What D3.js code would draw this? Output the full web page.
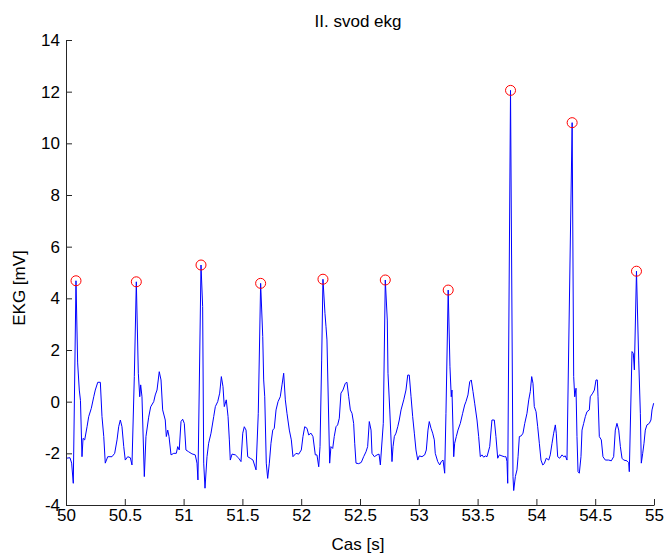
<!DOCTYPE html>
<html>
<head>
<meta charset="utf-8">
<script src="https://cdn.jsdelivr.net/npm/d3@7"></script>
<style>
  html, body { margin: 0; padding: 0; background: #fff; }
  svg { display: block; }
  text { font-family: "Liberation Sans", Arial, Helvetica, sans-serif; }
</style>
</head>
<body>
<svg id="chart" width="665" height="553"></svg>
<script>
// ---- data ----
const titleText = "II. svod ekg";
const xLabel = "Cas [s]";
const yLabel = "EKG [mV]";
const xTicks = [50, 50.5, 51, 51.5, 52, 52.5, 53, 53.5, 54, 54.5, 55];
const yTicks = [-4, -2, 0, 2, 4, 6, 8, 10, 12, 14];

const time = [
  50.000, 50.034, 50.048, 50.062, 50.085, 50.099, 50.113, 50.123, 50.136, 50.145,
  50.159, 50.179, 50.193, 50.215, 50.236, 50.249, 50.270, 50.292, 50.306, 50.321,
  50.334, 50.355, 50.391, 50.414, 50.434, 50.448, 50.462, 50.476, 50.491, 50.504,
  50.525, 50.547, 50.561, 50.581, 50.598, 50.615, 50.627, 50.635, 50.646, 50.666,
  50.680, 50.703, 50.720, 50.746, 50.759, 50.774, 50.793, 50.808, 50.822, 50.844,
  50.853, 50.865, 50.876, 50.893, 50.916, 50.938, 50.950, 50.963, 50.978, 50.992,
  51.006, 51.020, 51.043, 51.071, 51.099, 51.114, 51.122, 51.148, 51.162, 51.171,
  51.182, 51.199, 51.213, 51.233, 51.256, 51.270, 51.290, 51.307, 51.321, 51.335,
  51.346, 51.363, 51.378, 51.389, 51.397, 51.412, 51.440, 51.469, 51.488, 51.503,
  51.516, 51.531, 51.545, 51.567, 51.590, 51.616, 51.635, 51.655, 51.673, 51.681,
  51.690, 51.703, 51.715, 51.729, 51.743, 51.758, 51.771, 51.786, 51.803, 51.822,
  51.837, 51.851, 51.865, 51.879, 51.899, 51.916, 51.930, 51.956, 51.979, 52.001,
  52.015, 52.030, 52.049, 52.064, 52.083, 52.100, 52.120, 52.134, 52.149, 52.160,
  52.174, 52.185, 52.202, 52.211, 52.219, 52.242, 52.253, 52.268, 52.281, 52.296,
  52.310, 52.324, 52.338, 52.355, 52.375, 52.389, 52.404, 52.418, 52.432, 52.446,
  52.455, 52.466, 52.489, 52.511, 52.531, 52.551, 52.565, 52.579, 52.594, 52.602,
  52.622, 52.645, 52.662, 52.673, 52.698, 52.715, 52.732, 52.738, 52.753, 52.772,
  52.781, 52.792, 52.806, 52.821, 52.834, 52.849, 52.872, 52.891, 52.906, 52.919,
  52.934, 52.948, 52.962, 52.976, 52.991, 53.004, 53.027, 53.050, 53.064, 53.078,
  53.089, 53.104, 53.118, 53.132, 53.140, 53.161, 53.178, 53.191, 53.206, 53.220,
  53.231, 53.250, 53.265, 53.276, 53.282, 53.297, 53.305, 53.319, 53.333, 53.353,
  53.373, 53.390, 53.401, 53.418, 53.433, 53.446, 53.461, 53.475, 53.495, 53.509,
  53.523, 53.537, 53.552, 53.565, 53.580, 53.603, 53.622, 53.642, 53.656, 53.671,
  53.685, 53.707, 53.727, 53.741, 53.750, 53.756, 53.780, 53.801, 53.807, 53.821,
  53.835, 53.844, 53.855, 53.872, 53.886, 53.901, 53.920, 53.935, 53.948, 53.960,
  53.971, 53.982, 53.997, 54.011, 54.025, 54.039, 54.054, 54.067, 54.084, 54.105,
  54.118, 54.133, 54.147, 54.161, 54.169, 54.181, 54.198, 54.218, 54.232, 54.246,
  54.260, 54.304, 54.317, 54.326, 54.337, 54.345, 54.354, 54.365, 54.379, 54.388,
  54.402, 54.416, 54.430, 54.450, 54.458, 54.479, 54.493, 54.507, 54.518, 54.524,
  54.535, 54.552, 54.566, 54.586, 54.615, 54.637, 54.657, 54.671, 54.685, 54.700,
  54.714, 54.728, 54.742, 54.770, 54.785, 54.790, 54.813, 54.824, 54.833, 54.851,
  54.870, 54.884, 54.892, 54.904, 54.915, 54.926, 54.940, 54.960, 54.974, 54.983,
  54.997
];

const ekg = [
  -2.19, -2.17, -2.38, -3.16, 4.68, 1.50, 0.45, 0.05, -2.13, -1.42,
  -1.48, -0.97, -0.58, -0.26, 0.19, 0.45, 0.75, 0.75, -0.58, -1.35,
  -2.38, -2.13, -2.13, -2.00, -1.48, -0.97, -0.71, -0.97, -1.74, -2.26,
  -2.13, -2.17, -2.45, 0.97, 4.64, 1.10, 0.19, 0.65, 0.19, -2.90,
  -1.35, -0.60, -0.20, 0.00, 0.26, 0.45, 1.16, 0.84, -0.32, -0.71,
  -1.35, -1.10, -1.35, -2.06, -2.00, -2.00, -1.74, -1.87, -0.77, -0.68,
  -0.84, -1.87, -1.94, -2.02, -2.06, -2.38, -3.03, 5.29, 3.68, -2.38,
  -3.35, -2.13, -1.61, -1.22, -0.58, -0.19, 0.00, 0.33, 0.97, 0.58,
  -0.19, 0.07, -0.58, -1.48, -2.26, -2.03, -2.06, -2.19, -2.32, -1.22,
  -0.97, -1.10, -2.13, -2.19, -2.26, -2.64, -0.45, 4.58, 2.52, 0.84,
  0.19, -2.38, -2.97, -2.38, -1.61, -1.10, -1.03, -0.32, 0.00, 0.19,
  0.65, 1.10, 0.07, -0.45, -1.10, -1.48, -2.13, -2.00, -2.03, -1.87,
  -1.35, -0.97, -1.03, -1.29, -1.22, -1.35, -2.06, -2.06, -2.52, -1.74,
  1.61, 4.74, 3.42, 2.90, 2.39, -2.38, -1.74, -1.81, -1.35, -0.97,
  -0.90, -0.64, 0.33, 0.45, 0.71, 0.75, 0.19, -0.32, -0.45, -0.84,
  -1.61, -2.38, -2.40, -2.35, -2.13, -1.94, -1.74, -0.77, -1.10, -2.00,
  -2.13, -2.06, -2.03, -2.45, -0.84, 4.71, 3.16, 1.10, -0.32, -2.32,
  -1.74, -1.35, -1.22, -0.97, -0.71, -0.32, 0.07, 0.45, 1.03, 1.03,
  0.19, -0.58, -1.22, -1.87, -2.26, -2.10, -2.13, -2.06, -1.87, -1.10,
  -0.77, -1.03, -1.22, -1.48, -2.00, -2.32, -2.45, -2.32, -2.26, -2.77,
  -0.45, 4.32, 1.35, 0.19, 0.45, -2.13, -1.61, -1.35, -1.10, -0.84,
  -0.45, -0.13, 0.00, 0.26, 0.77, 0.84, 0.39, -0.06, -0.71, -1.35,
  -2.13, -2.06, -2.15, -2.10, -2.13, -1.74, -0.71, -0.71, -1.35, -2.19,
  -2.06, -2.10, -2.13, -2.13, -2.32, -3.16, 12.05, -2.90, -3.44, -2.90,
  -2.64, -2.13, -1.35, -1.32, -1.22, -0.84, -0.45, 0.07, 0.39, 0.97,
  0.71, -0.19, -0.39, -0.97, -1.61, -2.26, -2.45, -2.40, -2.19, -2.26,
  -2.06, -1.61, -1.22, -0.90, -1.22, -2.13, -2.19, -2.06, -2.13, -2.10,
  -2.26, 10.80, 0.97, 0.19, 0.52, -1.35, -2.71, -2.77, -2.13, -1.10,
  -0.84, -0.58, -0.39, -0.32, 0.19, 0.33, 0.45, 0.84, 0.84, 0.19,
  -1.35, -1.48, -2.13, -2.26, -2.26, -2.29, -2.13, -1.10, -0.84, -1.10,
  -1.74, -2.19, -2.26, -2.29, -2.36, -2.71, 1.94, 1.87, 1.23, 5.05,
  1.61, -0.45, -2.38, -2.00, -1.61, -1.10, -0.90, -0.84, -0.71, -0.32,
  -0.06
];

const peakTimes = [50.085, 50.598, 51.148, 51.655, 52.185, 52.715, 53.250, 53.780, 54.304, 54.851];
const peakValues = [4.68, 4.64, 5.29, 4.58, 4.74, 4.71, 4.32, 12.05, 10.80, 5.05];

// ---- layout ----
const W = 665, H = 553;
const plot = { left: 66, right: 654, top: 40, bottom: 505 };

const svg = d3.select("#chart");
svg.append("rect").attr("width", W).attr("height", H).attr("fill", "#fff");

const x = d3.scaleLinear().domain([50, 55]).range([plot.left, plot.right]);
const y = d3.scaleLinear().domain([-4, 14]).range([plot.bottom, plot.top]);

const series = time.map((t, i) => ({ t, v: ekg[i] }));

// signal line
const line = d3.line().x(d => x(d.t)).y(d => y(d.v));
svg.append("path")
  .datum(series)
  .attr("fill", "none")
  .attr("stroke", "#0000ff")
  .attr("stroke-width", 1)
  .attr("stroke-linejoin", "round")
  .attr("d", line);

// R-peak markers
svg.append("g").selectAll("circle")
  .data(peakTimes.map((t, i) => ({ t, v: peakValues[i] })))
  .join("circle")
  .attr("cx", d => x(d.t))
  .attr("cy", d => y(d.v))
  .attr("r", 5)
  .attr("fill", "none")
  .attr("stroke", "#ff0000")
  .attr("stroke-width", 1);

// axes
const fmt = d => String(d);
const xAxis = d3.axisBottom(x).tickValues(xTicks).tickFormat(fmt)
  .tickSizeInner(-6).tickSizeOuter(0).tickPadding(4);
const yAxis = d3.axisLeft(y).tickValues(yTicks).tickFormat(fmt)
  .tickSizeInner(-6).tickSizeOuter(0).tickPadding(6);

const gx = svg.append("g").attr("transform", `translate(0,${plot.bottom})`).call(xAxis);
const gy = svg.append("g").attr("transform", `translate(${plot.left},0)`).call(yAxis);

[gx, gy].forEach(g => {
  g.selectAll("path.domain").attr("stroke", "#262626").attr("stroke-width", 1);
  g.selectAll(".tick line").attr("stroke", "#262626");
  g.selectAll(".tick text")
    .attr("fill", "#000")
    .style("font-size", "17px")
    .style("font-family", "'Liberation Sans', Arial, sans-serif");
});

// title and labels
svg.append("text")
  .attr("x", 358)
  .attr("y", 27)
  .attr("text-anchor", "middle")
  .style("font-size", "17px")
  .attr("fill", "#000")
  .text(titleText);

svg.append("text")
  .attr("x", 358)
  .attr("y", 550)
  .attr("text-anchor", "middle")
  .style("font-size", "17px")
  .attr("fill", "#000")
  .text(xLabel);

svg.append("text")
  .attr("transform", `translate(25,288) rotate(-90)`)
  .attr("text-anchor", "middle")
  .style("font-size", "17px")
  .attr("fill", "#000")
  .text(yLabel);
</script>
</body>
</html>
